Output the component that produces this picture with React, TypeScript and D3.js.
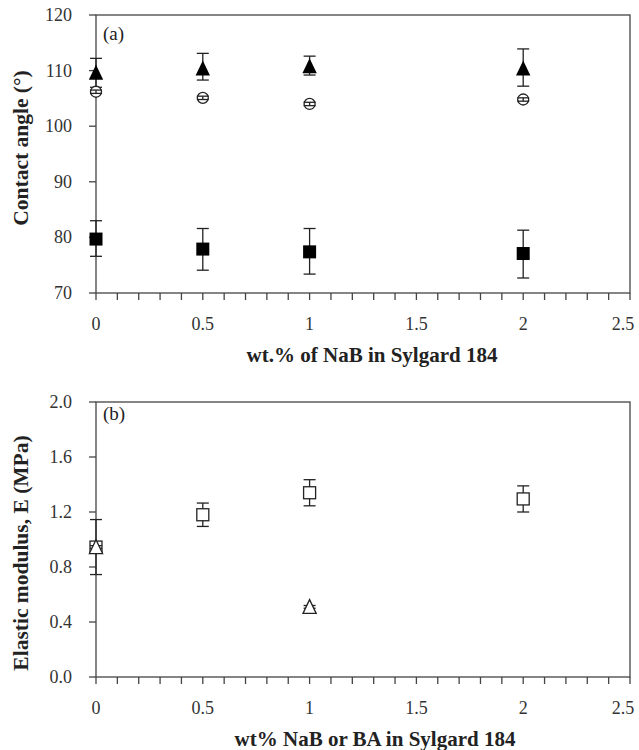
import * as d3 from 'd3';

const xValues = [0, 0.5, 1, 2];

// panel (a): contact angle
const triangleMean = [109.6, 110.4, 110.8, 110.4];
const triangleLow = [107.0, 108.3, 109.2, 107.2];
const triangleHigh = [112.2, 113.1, 112.6, 113.9];
const circleMean = [106.2, 105.1, 104.0, 104.8];
const circleErr = [0.3, 0.3, 0.3, 0.3];
const squareMean = [79.7, 77.9, 77.4, 77.1];
const squareLow = [76.6, 74.1, 73.4, 72.7];
const squareHigh = [83.0, 81.6, 81.6, 81.3];

// panel (b): elastic modulus
const modXs = [0, 0.5, 1, 2];
const modMean = [0.945, 1.18, 1.34, 1.295];
const modErr = [0.2, 0.085, 0.095, 0.095];
const baXs = [0, 1];
const baMean = [0.945, 0.51];
const baErr = [0.01, 0.01];

const xTicks = [0, 0.5, 1, 1.5, 2, 2.5];
const angleTicks = [70, 80, 90, 100, 110, 120];
const modTicks = [0, 0.4, 0.8, 1.2, 1.6, 2.0];

const FONT = '"Liberation Serif", "Times New Roman", serif';
const AXIS = '#444';

const x = d3.scaleLinear().domain([0, 2.5]).range([96, 630]);
const minorTicks = d3.range(0, 2.5001, 0.1);

function XAxis({ y0, top }: { y0: number; top: number }) {
  return (
    <g>
      <rect x={96} y={top} width={534} height={y0 - top} fill="none" stroke={AXIS} strokeWidth={1.3} />
      {minorTicks.map((t) => (
        <line key={t} x1={x(t)} x2={x(t)} y1={y0} y2={y0 + 7} stroke={AXIS} strokeWidth={1.3} />
      ))}
      {xTicks.map((t) => (
        // keep the last label inside the page, as in the original
        <text key={t} x={Math.min(x(t), 623)} y={y0 + 37} textAnchor="middle" fontSize={18} fontFamily={FONT} fill="#333">
          {t}
        </text>
      ))}
    </g>
  );
}

function YAxis({ scale, ticks, fmt }: { scale: d3.ScaleLinear<number, number>; ticks: number[]; fmt: (v: number) => string }) {
  return (
    <g>
      {ticks.map((t) => (
        <g key={t}>
          <line x1={89} x2={96} y1={scale(t)} y2={scale(t)} stroke={AXIS} strokeWidth={1.3} />
          <text x={72} y={scale(t) + 6} textAnchor="end" fontSize={18} fontFamily={FONT} fill="#333">
            {fmt(t)}
          </text>
        </g>
      ))}
    </g>
  );
}

function ErrBar({ cx, y1, y2 }: { cx: number; y1: number; y2: number }) {
  return (
    <g stroke="#222" strokeWidth={1.3}>
      <line x1={cx} x2={cx} y1={y1} y2={y2} />
      <line x1={cx - 6} x2={cx + 6} y1={y1} y2={y1} />
      <line x1={cx - 6} x2={cx + 6} y1={y2} y2={y2} />
    </g>
  );
}

const triPath = (cx: number, cy: number, s: number) =>
  `M${cx},${cy - s * 0.75}L${cx + s * 0.6},${cy + s * 0.5}L${cx - s * 0.6},${cy + s * 0.5}Z`;

export default function App() {
  const yA = d3.scaleLinear().domain([70, 120]).range([293, 15]);
  const yB = d3.scaleLinear().domain([0, 2]).range([677, 402]);

  return (
    <svg width={639} height={750} style={{ position: 'absolute', left: 0, top: 0, background: '#fff' }}>
      {/* panel (a) */}
      <XAxis y0={293} top={15} />
      <YAxis scale={yA} ticks={angleTicks} fmt={(v) => String(v)} />
      <text x={103} y={40} fontSize={19} fontFamily={FONT} fill="#222">(a)</text>
      {xValues.map((v, i) => (
        <g key={'tri' + i}>
          <ErrBar cx={x(v)} y1={yA(triangleHigh[i])} y2={yA(triangleLow[i])} />
          <path d={triPath(x(v), yA(triangleMean[i]) + 1, 12)} fill="#000" />
        </g>
      ))}
      {xValues.map((v, i) => (
        <g key={'cir' + i}>
          <circle cx={x(v)} cy={yA(circleMean[i])} r={5.5} fill="#fff" stroke="#222" strokeWidth={1.3} />
          <ErrBar cx={x(v)} y1={yA(circleMean[i] + circleErr[i])} y2={yA(circleMean[i] - circleErr[i])} />
        </g>
      ))}
      {xValues.map((v, i) => (
        <g key={'sq' + i}>
          <ErrBar cx={x(v)} y1={yA(squareHigh[i])} y2={yA(squareLow[i])} />
          <rect x={x(v) - 6.5} y={yA(squareMean[i]) - 6.5} width={13} height={13} fill="#000" />
        </g>
      ))}
      <text
        transform="translate(28,148) rotate(-90)"
        textAnchor="middle"
        fontSize={21.5}
        fontWeight="bold"
        fontFamily={FONT}
        fill="#222"
      >
        Contact angle (°)
      </text>
      <text x={372} y={362} textAnchor="middle" fontSize={21} fontWeight="bold" fontFamily={FONT} fill="#222">
        wt.% of NaB in Sylgard 184
      </text>

      {/* panel (b) */}
      <XAxis y0={677} top={402} />
      <YAxis scale={yB} ticks={modTicks} fmt={(v) => v.toFixed(1)} />
      <text x={103} y={420} fontSize={19} fontFamily={FONT} fill="#222">(b)</text>
      {modXs.map((v, i) => (
        <g key={'msq' + i}>
          <ErrBar cx={x(v)} y1={yB(modMean[i] + modErr[i])} y2={yB(modMean[i] - modErr[i])} />
          <rect x={x(v) - 6} y={yB(modMean[i]) - 6} width={12} height={12} fill="#fff" stroke="#222" strokeWidth={1.3} />
        </g>
      ))}
      {baXs.map((v, i) => (
        <g key={'ba' + i}>
          <ErrBar cx={x(v)} y1={yB(baMean[i] + baErr[i])} y2={yB(baMean[i] - baErr[i])} />
          <path d={triPath(x(v), yB(baMean[i]) + 1, 11)} fill="#fff" stroke="#222" strokeWidth={1.3} />
        </g>
      ))}
      <text
        transform="translate(28,553) rotate(-90)"
        textAnchor="middle"
        fontSize={21.5}
        fontWeight="bold"
        fontFamily={FONT}
        fill="#222"
      >
        Elastic modulus, E (MPa)
      </text>
      <text x={375} y={746} textAnchor="middle" fontSize={21} fontWeight="bold" fontFamily={FONT} fill="#222">
        wt% NaB or BA in Sylgard 184
      </text>
    </svg>
  );
}
